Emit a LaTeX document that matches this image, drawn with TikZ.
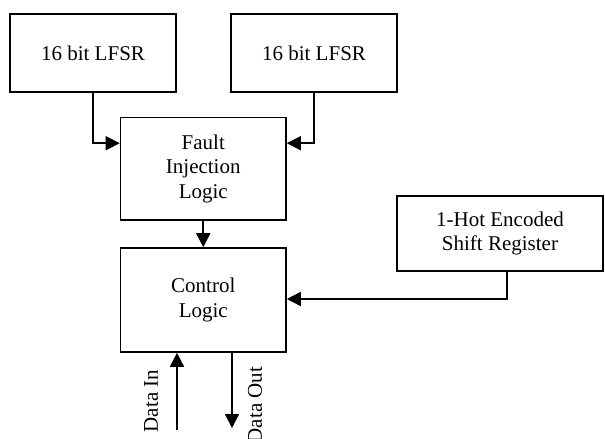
\documentclass[tikz,border=0pt]{standalone}
\usepackage{fontspec}
\setmainfont{Liberation Serif}
\usetikzlibrary{arrows.meta}
\begin{document}
\begin{tikzpicture}[x=1pt,y=-1pt,
  every node/.style={font=\fontsize{21}{24.3}\selectfont, inner sep=0pt},
  block/.style={draw, line width=1.6pt, align=center},
  link/.style={line width=1.6pt, -{Triangle[length=14pt,width=14pt]}}]
\useasboundingbox (0,0) rectangle (605,439);
% blocks
\node[block, minimum width=166pt, minimum height=78pt] (lfsrA) at (93,53) {16 bit LFSR};
\node[block, minimum width=166pt, minimum height=78pt] (lfsrB) at (314,53) {16 bit LFSR};
\node[block, minimum width=165.5pt, minimum height=102.5pt] (fault) at (203.25,168.75) {Fault\\Injection\\Logic};
\node[block, minimum width=165.5pt, minimum height=104pt] (ctrl) at (203.25,300) {Control\\Logic};
\node[block, minimum width=206pt, minimum height=75pt] (hot) at (500,233.5) {1-Hot Encoded\\Shift Register};
% free ends of the data lines
\coordinate (din) at (177,430);
\coordinate (dout) at (232,428);
% connectors
\draw[link] (lfsrA.south) |- ([yshift=-26.5pt]fault.north west);
\draw[link] (lfsrB.south) |- ([yshift=-26.5pt]fault.north east);
\draw[link] (fault.south) -- (ctrl.north);
\draw[link] ([xshift=7pt]hot.south) |- ([yshift=1pt]ctrl.east);
\draw[link] (din) -- (din |- ctrl.south);
\draw[link] (dout |- ctrl.south) -- (dout);
% labels
\node[rotate=90] (inlbl) at (151,401) {Data In};
\node[rotate=90] (outlbl) at (255,405) {Data Out};
\end{tikzpicture}
\end{document}
